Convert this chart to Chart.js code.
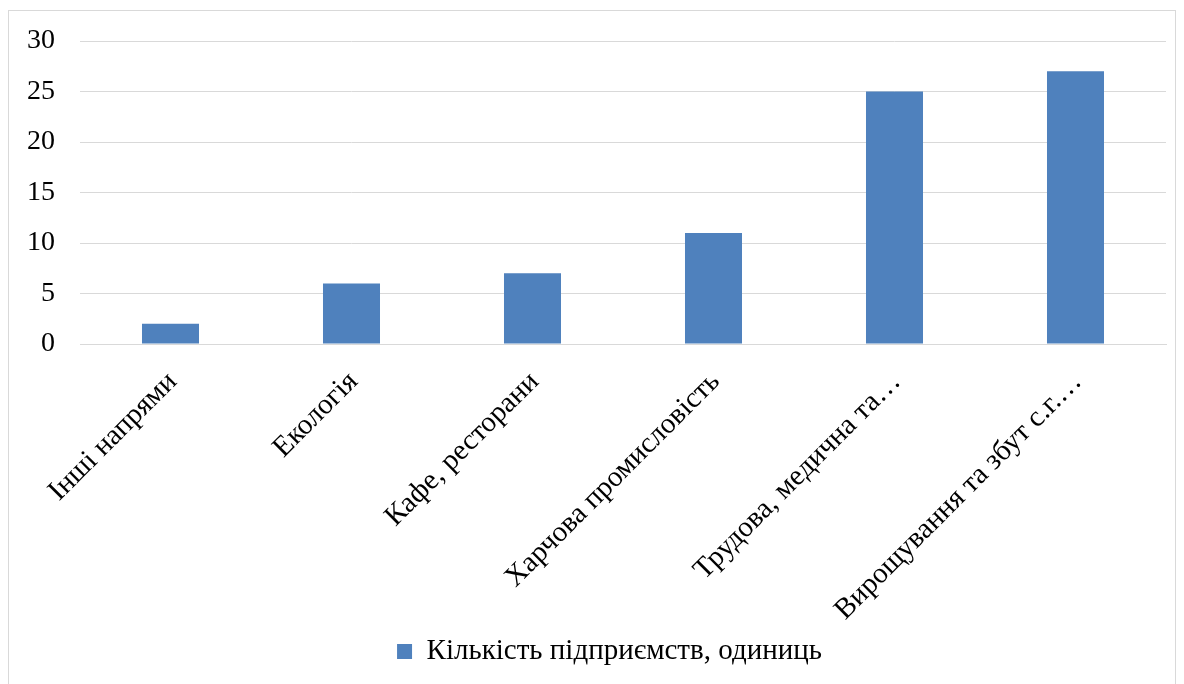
<!DOCTYPE html>
<html>
<head>
<meta charset="utf-8">
<script src="https://cdn.jsdelivr.net/npm/chart.js@4"></script>
<style>
  body { margin: 0; background: #fff; }
  #wrap {
    position: absolute; left: 8px; top: 10px;
    width: 1168px; height: 680px;
    border: 1px solid #d9d9d9; box-sizing: border-box;
  }
</style>
</head>
<body>
<div id="wrap"><canvas id="chart" width="1166" height="678"></canvas></div>
<script>
const categories = ["Інші напрями", "Екологія", "Кафе, ресторани", "Харчова промисловість", "Трудова, медична та…", "Вирощування та збут с.г.…"];
const enterprises = [2, 6, 7, 11, 25, 27];
const seriesName = "Кількість підприємств, одиниць";

// legend in the original sits a bit right of centre
const shiftLegend = {
    id: "shiftLegend",
    afterLayout: function(chart) {
        chart.legend.left += 22;
        chart.legend.right += 22;
    }
};

const ctx = document.getElementById("chart").getContext("2d");
new Chart(ctx, {
    type: "bar",
    data: {
        labels: categories,
        datasets: [{
            label: seriesName,
            data: enterprises,
            backgroundColor: "#4f81bd",
            borderWidth: 0,
            barPercentage: 0.63,
            categoryPercentage: 0.5
        }]
    },
    options: {
        responsive: false,
        animation: false,
        layout: { padding: { top: 30, right: 9, bottom: 13, left: 0 } },
        plugins: {
            legend: {
                position: "bottom",
                labels: {
                    color: "#000",
                    boxWidth: 15,
                    boxHeight: 15,
                    padding: 10,
                    font: { family: "Liberation Serif", size: 29 }
                }
            },
            tooltip: { enabled: false }
        },
        scales: {
            x: {
                grid: { display: false },
                border: { color: "#d9d9d9", width: 1 },
                ticks: {
                    color: "#000",
                    maxRotation: 45,
                    minRotation: 45,
                    autoSkip: false,
                    padding: 13,
                    labelOffset: 2,
                    font: { family: "Liberation Serif", size: 29 }
                },
                afterFit: function(axis) {
                    axis.height = 283;
                    axis.paddingTop = 0;
                    axis.paddingBottom = 0;
                }
            },
            y: {
                min: 0,
                max: 30,
                grid: { color: "#d9d9d9", drawTicks: false },
                border: { display: false },
                ticks: {
                    stepSize: 5,
                    color: "#000",
                    padding: 25,
                    font: { family: "Liberation Serif", size: 28 }
                },
                afterFit: function(axis) {
                    axis.width = 71;
                    axis.paddingTop = 0;
                    axis.paddingBottom = 0;
                }
            }
        }
    },
    plugins: [shiftLegend]
});
</script>
</body>
</html>
